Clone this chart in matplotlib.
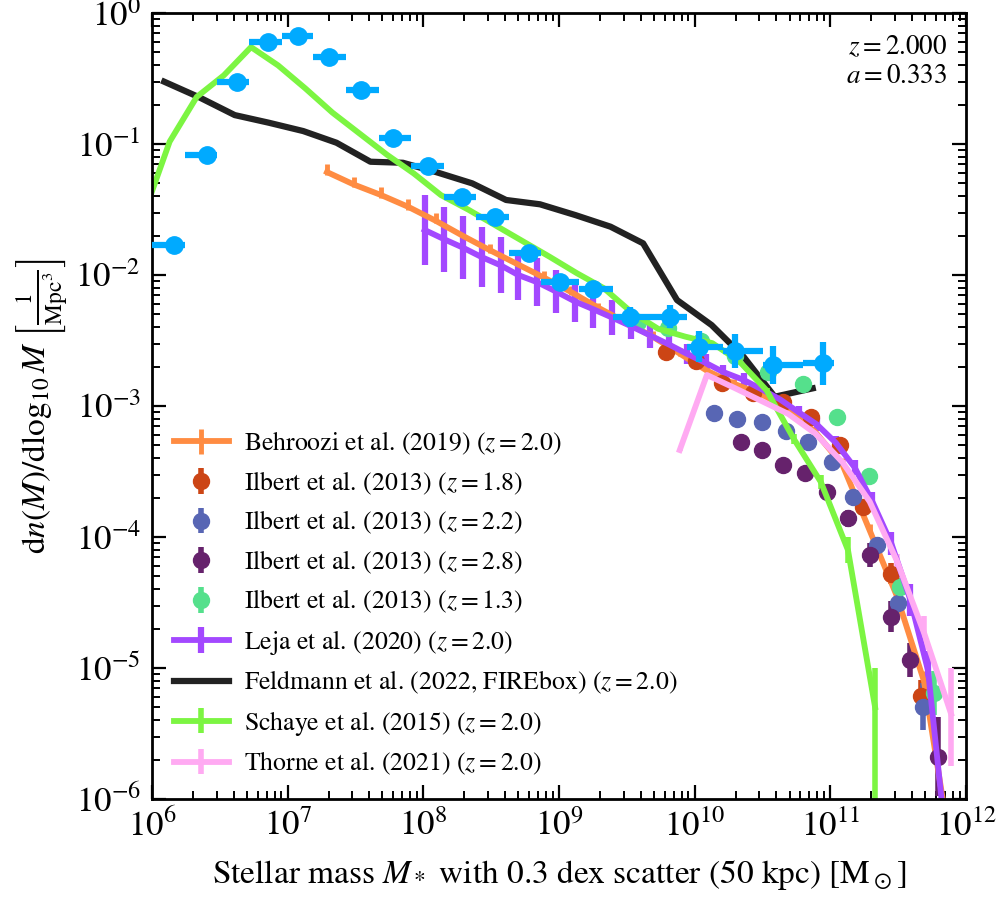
import numpy as np
import matplotlib
matplotlib.use("Agg")
import matplotlib.pyplot as plt

plt.rcParams['font.family'] = ['STIXGeneral', 'DejaVu Serif']
plt.rcParams['mathtext.fontset'] = 'stix'

# simulation points (log10 mass, bin edges, log10 phi, error in dex)
sim_x = [6.164, 6.408, 6.629, 6.853, 7.074, 7.307, 7.540, 7.779, 8.032, 8.283,
         8.528, 8.779, 9.007, 9.253, 9.523, 9.818, 10.032, 10.30, 10.579, 10.948]
sim_xlo = [6.0, 6.24, 6.48, 6.715, 6.955, 7.19, 7.43, 7.67, 7.91, 8.15,
           8.39, 8.63, 8.87, 9.15, 9.40, 9.67, 9.94, 10.21, 10.505, 10.80]
sim_xhi = [6.24, 6.48, 6.715, 6.955, 7.19, 7.43, 7.67, 7.91, 8.15, 8.39,
           8.63, 8.87, 9.15, 9.40, 9.67, 9.94, 10.21, 10.505, 10.80, 11.03]
sim_y = [-1.771, -1.084, -0.529, -0.219, -0.173, -0.334, -0.588, -0.952, -1.166, -1.407,
         -1.555, -1.834, -2.051, -2.109, -2.318, -2.318, -2.547, -2.58, -2.687, -2.674]
sim_err = [0.01, 0.01, 0.01, 0.01, 0.01, 0.01, 0.01, 0.01, 0.01, 0.02,
           0.02, 0.03, 0.05, 0.06, 0.076, 0.09, 0.12, 0.128, 0.146, 0.165]

# Behroozi et al. (2019)
beh_x = [7.29, 7.49, 7.69, 7.89, 8.09, 8.29, 8.49, 8.69, 8.89, 9.09, 9.29, 9.49,
         9.69, 9.89, 10.09, 10.29, 10.49, 10.69, 10.89, 11.09, 11.29, 11.49, 11.69, 11.89]
beh_y = [-1.214, -1.31, -1.39, -1.48, -1.585, -1.70, -1.81, -1.915, -2.02, -2.13, -2.25, -2.36,
         -2.47, -2.60, -2.73, -2.83, -2.91, -3.02, -3.20, -3.45, -3.95, -4.45, -5.10, -6.4]
beh_elo = [0.02] * 24
beh_ehi = [0.06, 0.06, 0.06, 0.06, 0.06, 0.05, 0.05, 0.05, 0.05, 0.05, 0.04, 0.04,
           0.04, 0.04, 0.04, 0.04, 0.04, 0.04, 0.04, 0.05, 0.05, 0.06, 0.08, 0.1]

# Ilbert et al. (2013)
ilb18_x = [9.79, 10.01, 10.20, 10.43, 10.65, 10.86, 11.07, 11.24, 11.45, 11.67]
ilb18_y = [-2.585, -2.66, -2.826, -2.90, -2.967, -3.08, -3.30, -3.77, -4.28, -5.21]
ilb18_e = [0.02, 0.02, 0.02, 0.02, 0.02, 0.03, 0.04, 0.06, 0.08, 0.12]

ilb22_x = [10.145, 10.315, 10.493, 10.67, 10.837, 11.01, 11.17, 11.341, 11.50, 11.685]
ilb22_y = [-3.056, -3.10, -3.125, -3.19, -3.273, -3.425, -3.697, -4.061, -4.506, -5.295]
ilb22_e = [0.02, 0.02, 0.02, 0.02, 0.03, 0.03, 0.04, 0.06, 0.09, 0.18]

ilb28_x = [10.338, 10.493, 10.653, 10.815, 10.975, 11.13, 11.29, 11.444, 11.587, 11.796]
ilb28_y = [-3.272, -3.336, -3.45, -3.514, -3.654, -3.857, -4.137, -4.608, -4.939, -5.677]
ilb28_e = [0.02, 0.02, 0.02, 0.03, 0.04, 0.065, 0.09, 0.12, 0.13, 0.3]

ilb13_x = [9.585, 9.806, 10.05, 10.30, 10.543, 10.80, 11.047, 11.286, 11.513, 11.766]
ilb13_y = [-2.356, -2.407, -2.50, -2.62, -2.738, -2.834, -3.08, -3.534, -4.38, -5.19]
ilb13_e = [0.02, 0.02, 0.02, 0.02, 0.02, 0.02, 0.03, 0.04, 0.07, 0.17]

# Leja et al. (2020)
leja_x = [8.01, 8.15, 8.29, 8.43, 8.57, 8.70, 8.84, 8.98, 9.12, 9.25, 9.39, 9.53, 9.67, 9.81, 9.94,
          10.08, 10.21, 10.36, 10.49, 10.63, 10.77, 10.90, 11.04, 11.18, 11.31, 11.45, 11.59, 11.72, 11.86]
leja_y = [-1.656, -1.725, -1.79, -1.863, -1.926, -2.0, -2.055, -2.127, -2.203, -2.26, -2.324, -2.39,
          -2.46, -2.53, -2.60, -2.67, -2.74, -2.80, -2.87, -2.95, -3.05, -3.14, -3.28, -3.47, -3.73,
          -4.05, -4.48, -5.02, -6.4]
leja_e = [0.267, 0.248, 0.24, 0.227, 0.214, 0.19, 0.185, 0.165, 0.153, 0.145, 0.134, 0.10,
          0.095, 0.085, 0.076, 0.064, 0.057, 0.053, 0.05, 0.05, 0.05, 0.05, 0.055, 0.06, 0.07,
          0.09, 0.12, 0.15, 0.2]

# Feldmann et al. (2022, FIREbox)
fire_x = [6.09, 6.35, 6.61, 6.86, 7.115, 7.36, 7.61, 7.85, 8.10, 8.36, 8.61, 8.86,
          9.12, 9.38, 9.62, 9.87, 10.125, 10.36, 10.59, 10.87]
fire_y = [-0.524, -0.644, -0.779, -0.837, -0.901, -0.990, -1.135, -1.143, -1.216, -1.30, -1.427, -1.46,
          -1.542, -1.631, -1.758, -2.191, -2.382, -2.623, -2.929, -2.865]

# Schaye et al. (2015)
eagle_x = [5.93, 6.13, 6.33, 6.53, 6.73, 6.93, 7.13, 7.33, 7.53, 7.73, 7.93, 8.13, 8.33, 8.53,
           8.73, 8.93, 9.13, 9.33, 9.53, 9.73, 9.93, 10.13, 10.33, 10.53, 10.73, 10.93, 11.13, 11.33]
eagle_y = [-1.565, -0.982, -0.64, -0.475, -0.26, -0.40, -0.575, -0.76, -0.92, -1.08, -1.225, -1.39,
           -1.50, -1.62, -1.74, -1.86, -1.985, -2.10, -2.28, -2.41, -2.47, -2.52, -2.66, -2.88,
           -3.25, -3.58, -4.10, -5.30]
eagle_elo = [0.005] * 22 + [0.02, 0.02, 0.04, 0.05, 0.1, 3.0]
eagle_ehi = [0.005] * 22 + [0.02, 0.02, 0.04, 0.05, 0.1, 0.3]

# Thorne et al. (2021)
thorne_x = [9.89, 10.09, 10.29, 10.49, 10.69, 10.89, 11.09, 11.29, 11.49, 11.69, 11.89]
thorne_y = [-3.336, -2.763, -2.86, -2.96, -3.06, -3.21, -3.43, -3.73, -4.18, -4.73, -5.35]
thorne_elo = [0.01, 0.01, 0.01, 0.01, 0.01, 0.01, 0.02, 0.03, 0.05, 0.13, 0.40]
thorne_ehi = [0.01, 0.01, 0.01, 0.01, 0.01, 0.01, 0.02, 0.03, 0.05, 0.13, 0.35]


def dex_err(logy, elo, ehi):
    y = 10 ** np.asarray(logy)
    lo = y - y * 10 ** (-np.asarray(elo))
    hi = y * 10 ** np.asarray(ehi) - y
    return y, [lo, hi]


fig = plt.figure(figsize=(9.96, 9.0), dpi=100)
ax = fig.add_axes([0.1526, 0.1122, 0.8173, 0.8733])
ax.set_xscale('log')
ax.set_yscale('log')

handles = []
lw = 4.2
y, e = dex_err(beh_y, beh_elo, beh_ehi)
handles.append(ax.errorbar(10 ** np.array(beh_x), y, yerr=e, color='#ff8c42', lw=lw, elinewidth=3.5,
                           capsize=0, label=r'Behroozi et al. (2019) ($z = 2.0$)'))

for xs, ys, es, col, zz in [(ilb18_x, ilb18_y, ilb18_e, '#cc4515', '1.8'),
                            (ilb22_x, ilb22_y, ilb22_e, '#5866b4', '2.2'),
                            (ilb28_x, ilb28_y, ilb28_e, '#66226c', '2.8'),
                            (ilb13_x, ilb13_y, ilb13_e, '#55e08c', '1.3')]:
    y, e = dex_err(ys, es, es)
    handles.append(ax.errorbar(10 ** np.array(xs), y, yerr=e, fmt='o', ms=11.5, color=col, elinewidth=4,
                               capsize=0, label=r'Ilbert et al. (2013) ($z = %s$)' % zz))

y, e = dex_err(leja_y, leja_e, leja_e)
handles.append(ax.errorbar(10 ** np.array(leja_x), y, yerr=e, color='#a348ff', lw=lw, elinewidth=4.5,
                           capsize=0, label=r'Leja et al. (2020) ($z = 2.0$)'))

handles.append(ax.plot(10 ** np.array(fire_x), 10 ** np.array(fire_y), color='#222222', lw=4.5,
                       label=r'Feldmann et al. (2022, FIREbox) ($z = 2.0$)')[0])

y, e = dex_err(eagle_y, eagle_elo, eagle_ehi)
handles.append(ax.errorbar(10 ** np.array(eagle_x), y, yerr=e, color='#7cf542', lw=lw, elinewidth=4,
                           capsize=0, label=r'Schaye et al. (2015) ($z = 2.0$)'))

y, e = dex_err(thorne_y, thorne_elo, thorne_ehi)
handles.append(ax.errorbar(10 ** np.array(thorne_x), y, yerr=e, color='#ffaaf2', lw=lw, elinewidth=4,
                           capsize=0, label=r'Thorne et al. (2021) ($z = 2.0$)'))

sx = 10 ** np.array(sim_x)
xerr = [sx - 10 ** np.array(sim_xlo), 10 ** np.array(sim_xhi) - sx]
y, e = dex_err(sim_y, sim_err, sim_err)
ax.errorbar(sx, y, xerr=xerr, yerr=e, fmt='o', ms=12.5, color='#00aaff', elinewidth=4.5,
            capsize=0, zorder=10)

ax.set_xlim(1e6, 1e12)
ax.set_ylim(1e-6, 1)
ax.tick_params(which='both', direction='in', top=True, right=True, labelsize=25)
ax.tick_params(which='major', length=10, width=1.6, pad=8)
ax.tick_params(which='minor', length=6, width=1.4)
for sp in ax.spines.values():
    sp.set_linewidth(2)

ax.set_xlabel(r'Stellar mass $M_*$ with 0.3 dex scatter (50 kpc) [$\mathrm{M}_\odot$]', fontsize=24,
              labelpad=10)
ax.set_ylabel(r'$\mathrm{d}n(M)/\mathrm{d}\log_{10}M$ $\left[\frac{1}{\mathrm{Mpc}^3}\right]$',
              fontsize=24, labelpad=4)

ax.text(0.977, 0.972, '$z = 2.000$\n$a = 0.333$', transform=ax.transAxes, ha='right', va='top',
        fontsize=19.5, linespacing=1.15)

ax.legend(handles=handles, loc='lower left', frameon=False, fontsize=18.5, handlelength=2.15,
          handletextpad=0.6, labelspacing=0.48, borderaxespad=0.45)

fig.savefig('out.png', dpi=100)
